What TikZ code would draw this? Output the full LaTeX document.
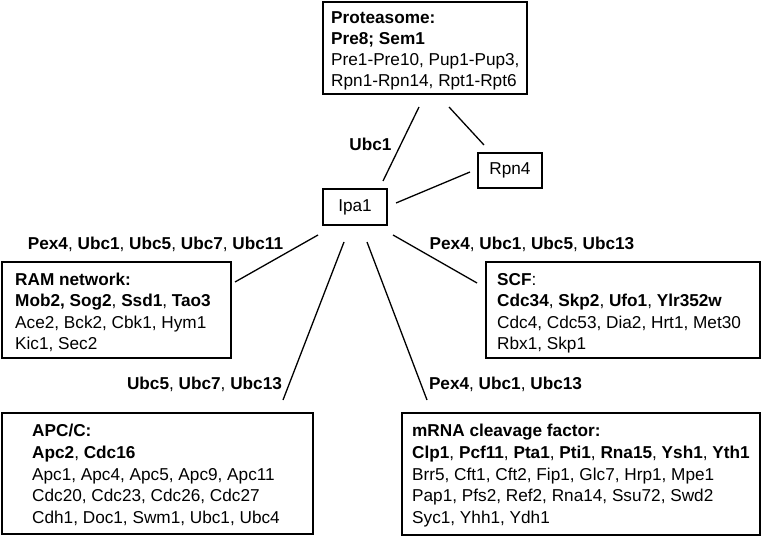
\documentclass[tikz,border=0pt]{standalone}
\usepackage{fontspec}
\setmainfont{Liberation Sans}
\begin{document}
\begin{tikzpicture}[x=1pt,y=-1pt,
  box/.style={draw, line width=1.5pt, inner sep=0pt, outer sep=0pt},
  small/.style={font=\fontsize{17.2}{20}\selectfont},
  txt/.style={small, anchor=base west, inner sep=0pt},
  lbl/.style={small, anchor=base, inner sep=0pt},
  link/.style={line width=1.3pt}]
\useasboundingbox (0,0) rectangle (762,537);

% boxes
\node[box, minimum width=204pt, minimum height=92pt] (prot) at (425,48) {};
\node[box, small, minimum width=64pt, minimum height=36pt] (ipa) at (355,207) {Ipa1};
\node[box, small, minimum width=64pt, minimum height=35pt] (rpn) at (510,170.5) {Rpn4};
\node[box, minimum width=229pt, minimum height=96pt] (ram) at (116.5,310) {};
\node[box, minimum width=274pt, minimum height=96pt] (scf) at (623,310) {};
\node[box, minimum width=311pt, minimum height=121pt] (apc) at (157.5,473.5) {};
\node[box, minimum width=358pt, minimum height=122pt] (mrna) at (581,474) {};

% proteasome text
\node[txt] (p1) at (331,24) {\textbf{Proteasome:}};
\node[txt] (p2) at (331,45) {\textbf{Pre8; Sem1}};
\node[txt] (p3) at (331,66) {Pre1-Pre10, Pup1-Pup3,};
\node[txt] (p4) at (331,87) {Rpn1-Rpn14, Rpt1-Rpt6};

% RAM text
\node[txt] (r1) at (15,285) {\textbf{RAM network:}};
\node[txt] (r2) at (15,306.5) {\textbf{Mob2, Sog2}, \textbf{Ssd1}, \textbf{Tao3}};
\node[txt] (r3) at (15,328) {Ace2, Bck2, Cbk1, Hym1};
\node[txt] (r4) at (15,349.5) {Kic1, Sec2};

% SCF text
\node[txt] (s1) at (497,285) {\textbf{SCF}:};
\node[txt] (s2) at (497,306.5) {\textbf{Cdc34}, \textbf{Skp2}, \textbf{Ufo1}, \textbf{Ylr352w}};
\node[txt] (s3) at (497,328) {Cdc4, Cdc53, Dia2, Hrt1, Met30};
\node[txt] (s4) at (497,349.5) {Rbx1, Skp1};

% APC text
\node[txt] (a1) at (32,436) {\textbf{APC/C:}};
\node[txt] (a2) at (32,458) {\textbf{Apc2}, \textbf{Cdc16}};
\node[txt] (a3) at (32,480) {Apc1, Apc4, Apc5, Apc9, Apc11};
\node[txt] (a4) at (32,501.5) {Cdc20, Cdc23, Cdc26, Cdc27};
\node[txt] (a5) at (32,523) {Cdh1, Doc1, Swm1, Ubc1, Ubc4};

% mRNA text
\node[txt] (m1) at (412,436) {\textbf{mRNA cleavage factor:}};
\node[txt] (m2) at (412,458) {\textbf{Clp1}, \textbf{Pcf11}, \textbf{Pta1}, \textbf{Pti1}, \textbf{Rna15}, \textbf{Ysh1}, \textbf{Yth1}};
\node[txt] (m3) at (412,480) {Brr5, Cft1, Cft2, Fip1, Glc7, Hrp1, Mpe1};
\node[txt] (m4) at (412,501.5) {Pap1, Pfs2, Ref2, Rna14, Ssu72, Swd2};
\node[txt] (m5) at (412,523) {Syc1, Yhh1, Ydh1};

% edge labels
\node[lbl] (l0) at (370.5,151) {\textbf{Ubc1}};
\node[lbl] (l1) at (155.5,249) {\textbf{Pex4}, \textbf{Ubc1}, \textbf{Ubc5}, \textbf{Ubc7}, \textbf{Ubc11}};
\node[lbl] (l2) at (532,249) {\textbf{Pex4}, \textbf{Ubc1}, \textbf{Ubc5}, \textbf{Ubc13}};
\node[lbl] (l3) at (204.5,389) {\textbf{Ubc5}, \textbf{Ubc7}, \textbf{Ubc13}};
\node[lbl] (l4) at (505.5,389) {\textbf{Pex4}, \textbf{Ubc1}, \textbf{Ubc13}};

% connector end points
\coordinate (ipaP) at (383,181);  \coordinate (protI) at (419,107);
\coordinate (protR) at (449,107); \coordinate (rpnP) at (484,145);
\coordinate (ipaR) at (396,203);  \coordinate (rpnI) at (470,172);
\coordinate (ipaL) at (318,235);  \coordinate (ramI) at (235,282);
\coordinate (ipaS) at (393,235);  \coordinate (scfI) at (477,283);
\coordinate (ipaA) at (344,242);  \coordinate (apcI) at (283,400);
\coordinate (ipaM) at (367,242);  \coordinate (mrnaI) at (427,400);

\draw[link] (ipaP) -- (protI);
\draw[link] (protR) -- (rpnP);
\draw[link] (ipaR) -- (rpnI);
\draw[link] (ipaL) -- (ramI);
\draw[link] (ipaS) -- (scfI);
\draw[link] (ipaA) -- (apcI);
\draw[link] (ipaM) -- (mrnaI);
\end{tikzpicture}
\end{document}
